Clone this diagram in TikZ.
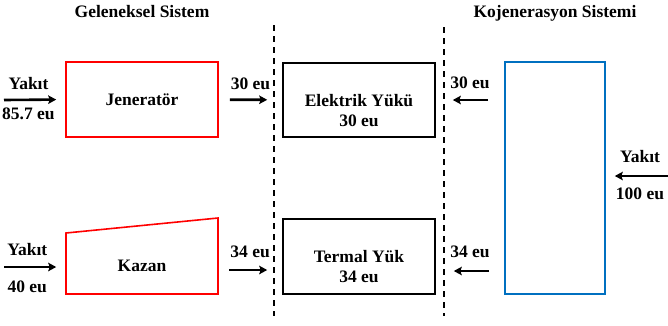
\documentclass[tikz,border=0pt]{standalone}
\usepackage{fontspec}
\setmainfont{Liberation Serif}
\usetikzlibrary{arrows, arrows.meta, positioning, calc}
\definecolor{cogenblue}{RGB}{0,112,192}
\tikzstyle{unit} = [rectangle, draw, line width=1.6pt, minimum width=152pt, minimum height=75pt]
\tikzstyle{tag} = [inner sep=0pt, align=center]
\tikzstyle{arrow} = [line width=2.6pt, ->, >={Stealth[length=8pt, width=8.5pt, inset=1.5pt]}]
\tikzstyle{divider} = [line width=1.8pt, dash pattern=on 6pt off 5pt]

\begin{document}
\begin{tikzpicture}[x=1pt, y=-1pt, font=\fontsize{17.5}{20}\selectfont\bfseries]
    \useasboundingbox (0,0) rectangle (668,325);

    % titles
    \node (geleneksel) [tag, anchor=base] at (142,17) {Geleneksel Sistem};
    \node (kojen) [tag, anchor=base] at (555,17) {Kojenerasyon Sistemi};

    % conventional side
    \node (jen) [unit, draw=red] at (142,99.5) {Jeneratör};
    \draw[red, line width=1.6pt] (66,233) -- (218,218) -- (218,294) -- (66,294) -- cycle;
    \node (kazan) [tag] at (142,266) {Kazan};

    % loads
    \node (elec) [unit, minimum height=74pt] at (359,100) {};
    \node (elecTxt) [tag] at (359,111) {Elektrik Yükü\\30 eu};
    \node (therm) [unit] at (359,256.5) {};
    \node (thermTxt) [tag] at (359,267) {Termal Yük\\34 eu};

    % cogeneration
    \node (cogen) [unit, draw=cogenblue, minimum width=100pt, minimum height=232pt] at (555,178) {};

    % dividers
    \coordinate (d1top) at (274,25);
    \coordinate (d1bot) at (274,316);
    \coordinate (d2top) at (444,27);
    \coordinate (d2bot) at (444,316);
    \draw[divider] (d1top) -- (d1bot);
    \draw[divider] (d2top) -- (d2bot);

    % flows
    \coordinate (fuelJen) at (4,100);
    \coordinate (fuelKaz) at (4,267);
    \coordinate (kazOut) at (218,270);
    \coordinate (fuelCog) at (668,176);
    \draw[arrow, shorten >=9pt] (fuelJen) -- node[tag, pos=0.4, above=9pt] {Yakıt} node[tag, pos=0.4, below=7pt] {85.7 eu} (jen.west);
    \draw[arrow, shorten <=11pt, shorten >=15pt] (jen) -- node[tag, above=9pt] {30 eu} (elec);
    \draw[arrow, shorten >=9pt] (fuelKaz) -- node[tag, pos=0.38, above=10pt] {Yakıt} node[tag, pos=0.38, below=13pt] {40 eu} (fuelKaz -| jen.west);
    \draw[arrow, shorten <=11pt, shorten >=15pt] (kazOut) -- node[tag, above=11pt] {34 eu} (therm.west |- kazOut);
    \draw[arrow, shorten <=16pt, shorten >=17pt] (cogen.west |- elec) -- node[tag, above=10pt] {30 eu} (elec.east);
    \draw[arrow, shorten <=15pt, shorten >=18pt] (cogen.west |- 0,271) -- node[tag, above=12pt] {34 eu} (therm.east |- 0,271);
    \draw[arrow, shorten >=9pt] (fuelCog) -- node[tag, pos=0.45, above=12pt] {Yakıt} node[tag, pos=0.45, below=11pt] {100 eu} (cogen.east |- fuelCog);
\end{tikzpicture}
\end{document}
